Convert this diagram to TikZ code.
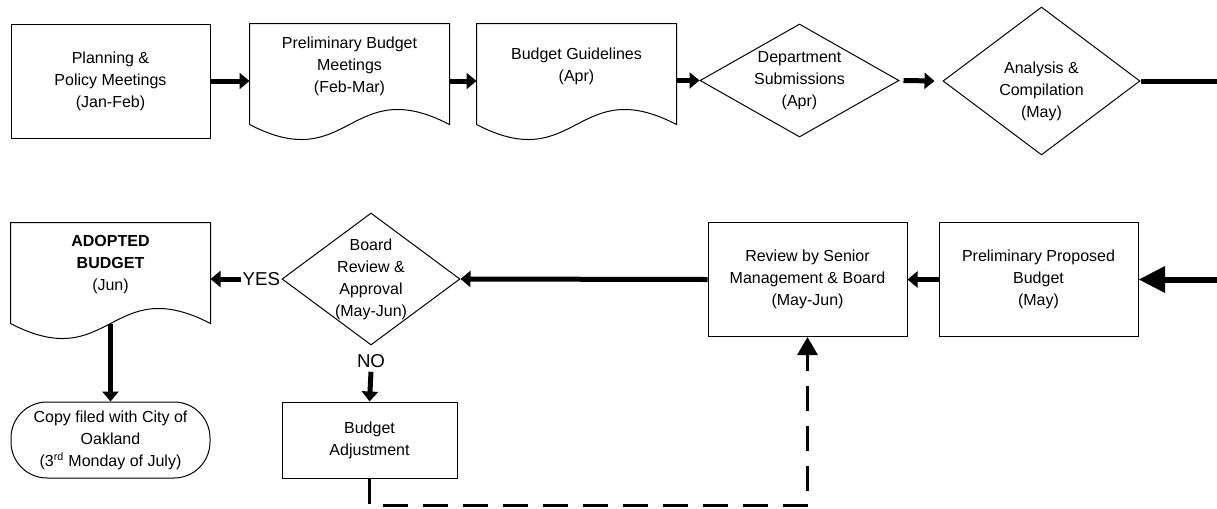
\documentclass[tikz,border=0pt]{standalone}
\usepackage{fontspec}
\setmainfont{Liberation Sans}
\usetikzlibrary{shapes.geometric,arrows.meta,calc}

\tikzset{every picture/.style={line width=0.75pt}}
\tikzset{
  every node/.style={font=\fontsize{12pt}{16.5pt}\selectfont, inner sep=0.75pt, align=center},
  procbox/.style={draw, minimum width=149.25pt, minimum height=85.5pt},
  docbox/.style={minimum width=149.25pt, minimum height=63pt},
  decision/.style={draw, diamond, inner sep=0pt},
  answer/.style={font=\fontsize{14pt}{16.5pt}\selectfont},
  flow/.style={line width=3.75pt, -{Triangle[length=7.5pt,width=12pt]}},
  bigflow/.style={line width=4.5pt, -{Triangle[length=20pt,width=19pt]}},
  backflow/.style={line width=2.25pt, dash pattern=on 18.75pt off 11.25pt, -{Triangle[length=13.5pt,width=15pt]}}
}

\begin{document}
\begin{tikzpicture}[x=0.75pt,y=0.75pt,yscale=-1,xscale=1]
	\useasboundingbox (0,0) rectangle (1217,508);
	%Shape: Rectangle
	\node[procbox] (plan) at (110.5,81) {Planning \&\\Policy Meetings\\(Jan-Feb)};
	%Shape: Document
	\node[docbox] (pbm) at (349.5,66) {Preliminary Budget\\Meetings\\(Feb-Mar)};
	%Shape: Document
	\node[docbox] (guide) at (576.5,66) {Budget Guidelines\\(Apr)};
	%Shape: Diamond
	\node[decision, minimum width=149.25pt, minimum height=84.75pt] (dept) at (799.5,80.5) {};
	% Text Node
	\node (deptT) at (dept) {Department\\Submissions\\(Apr)};
	%Shape: Diamond
	\node[decision, minimum width=147.75pt, minimum height=111pt] (anal) at (1041.5,81) {};
	% Text Node
	\node (analT) at (1041.5,91) {Analysis \&\\Compilation\\(May)};
	\coordinate (outR) at (1217,81);

	%Shape: Rectangle
	\node[procbox] (ppb) at (1038.5,279.5) {Preliminary Proposed\\Budget\\(May)};
	%Shape: Rectangle
	\node[procbox] (review) at (807.5,279.5) {Review by Senior\\Management \& Board\\(May-Jun)};
	%Shape: Diamond
	\node[decision, minimum width=133.5pt, minimum height=99pt] (board) at (371,279) {};
	% Text Node
	\node (boardT) at (board) {Board\\Review \&\\Approval\\(May-Jun)};
	%Shape: Document
	\node[docbox] (adopted) at (110.5,265) {\textbf{ADOPTED}\\\textbf{BUDGET}\\(Jun)};
	%Shape: Rectangle
	\node[procbox, minimum width=131.25pt, minimum height=57pt] (adjust) at (369.5,440) {Budget\\Adjustment};
	%Shape: Rounded Rectangle
	\node[draw, rounded corners=27pt, minimum width=149.25pt, minimum height=57pt] (copy) at (110.5,440) {Copy filed with City of\\Oakland\\(3\textsuperscript{rd} Monday of July)};
	% Text Node
	\node[answer, anchor=east] (yes) at (board.west) {YES};
	% Text Node
	\node[answer] (no) at (371,361) {NO};
	\coordinate (inR) at (1217,279.5);

	% document outlines
	\foreach \n in {pbm,guide,adopted}
		\draw (\n.north west) -- (\n.north east) -- ([yshift=12pt]\n.south east) .. controls +(-100,-52) and +(100,52) .. ([yshift=12pt]\n.south west) -- cycle ;

	%Straight Lines
	\draw[flow] (plan.east) -- (plan.east -| pbm.west) ;
	\draw[flow] (pbm.east |- plan.east) -- (guide.west |- plan.east) ;
	\draw[flow] (guide.east |- dept.west) -- (dept.west) ;
	\draw[flow] ([xshift=3pt]dept.east) -- ([xshift=-6pt]anal.west) ;
	\draw[line width=3.75pt] (anal.east) -- (outR) ;
	\draw[bigflow] (inR) -- (ppb.east) ;
	\draw[flow] (ppb.west) -- (review.east) ;
	\draw[flow] (review.west) -- (board.east) ;
	\draw[flow] (yes.west) -- (adopted.east |- yes.west) ;
	\draw[flow] ([yshift=2pt]no.south) -- (adjust.north) ;
	\draw[flow] ([yshift=12pt]adopted.south) -- (copy.north) ;
	\draw[backflow] (adjust.south) -- ++(0,27) -| (review.south) ;
\end{tikzpicture}
\end{document}
